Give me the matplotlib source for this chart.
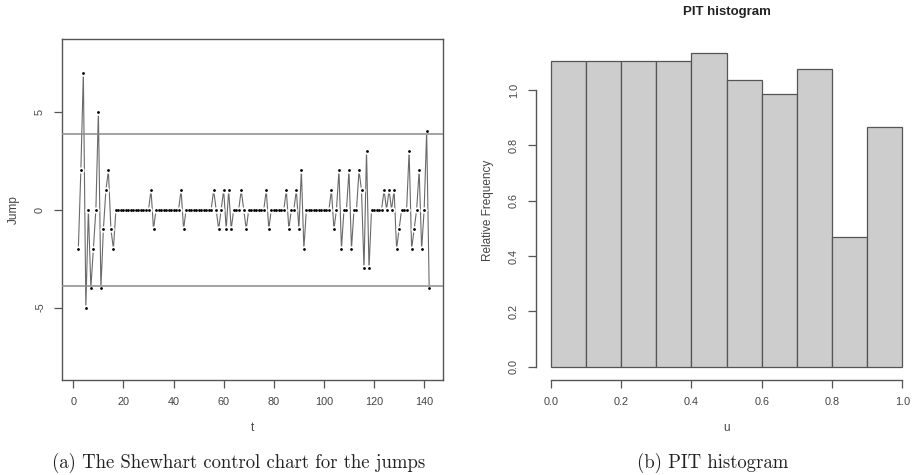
import numpy as np
import matplotlib
matplotlib.use("Agg")
import matplotlib.pyplot as plt

# ---------------- data ----------------
t_start = 2
jumps = [
    -2, 2, 7, -5, 0, -4, -2, 0, 5, -4, -1, 1, 2, -1, -2,
    0, 0, 0, 0, 0, 0, 0, 0, 0, 0, 0, 0, 0, 0,
    1, -1,
    0, 0, 0, 0, 0, 0, 0, 0, 0, 0,
    1, -1,
    0, 0, 0, 0, 0, 0, 0, 0, 0, 0, 0,
    1, 0, -1, 0, 1, -1, 1, -1,
    0, 0, 0,
    1, 0, -1,
    0, 0, 0, 0, 0, 0, 0,
    1, -1,
    0, 0, 0, 0, 0, 0,
    1, -1,
    0, 0,
    1, -1, 2, -2,
    0, 0, 0, 0, 0, 0, 0, 0, 0, 0,
    1, -1, 0, 2, -2, 0, 0, 2, -2, 0, 0, 2, 1, -3, 3, -3,
    0, 0, 0, 0, 0,
    1, 0, 1, 0, 1,
    -2, -1, 0, 0, 0, 3, -2, -1, 0, 2, -2, 0, 4, -4,
]
ucl = 3.88
lcl = -3.88
x_ticks_a = [0, 20, 40, 60, 80, 100, 120, 140]
y_ticks_a = [-5, 0, 5]

pit_edges = [0.0, 0.1, 0.2, 0.3, 0.4, 0.5, 0.6, 0.7, 0.8, 0.9, 1.0]
pit_density = [1.105, 1.105, 1.105, 1.105, 1.135, 1.035, 0.985, 1.075, 0.47, 0.865]
x_ticks_b = [0.0, 0.2, 0.4, 0.6, 0.8, 1.0]
y_ticks_b = [0.0, 0.2, 0.4, 0.6, 0.8, 1.0]

# ---------------- figure ----------------
W, H = 920, 475
fig = plt.figure(figsize=(W / 100, H / 100), dpi=100)
plt.rcParams['font.family'] = ['Liberation Sans', 'DejaVu Sans']
txt = '#444444'
axc = '#555555'
tick_fs = 7.8


def px_axes(l, t, r, b):
    return fig.add_axes([l / W, 1 - b / H, (r - l) / W, (b - t) / H])


# ---- (a) Shewhart chart ----
ax1 = px_axes(61.7, 39.3, 443.3, 380)
t = np.arange(t_start, t_start + len(jumps))
y = np.array(jumps)
ax1.plot(t, y, color='#6a6a6a', lw=0.8, zorder=1)
ax1.plot(t, y, 'o', ms=4.6, color='white', mec='none', zorder=2)
ax1.axhline(ucl, color='#8a8a8a', lw=1.1, zorder=3)
ax1.axhline(lcl, color='#8a8a8a', lw=1.1, zorder=3)
ax1.plot(t, y, 'o', ms=2.0, color='black', mec='none', zorder=4)
ax1.set_xlim(-4.64, 147.64)
ax1.set_ylim(-8.7, 8.7)
ax1.set_xticks(x_ticks_a)
ax1.set_xticklabels([str(v) for v in x_ticks_a])
ax1.set_yticks(y_ticks_a)
ax1.set_yticklabels([str(v) for v in y_ticks_a], rotation=90, va='center')
for s in ax1.spines.values():
    s.set_color(axc)
    s.set_linewidth(1.0)
ax1.tick_params(direction='out', length=6, width=0.9, color=axc,
                labelsize=tick_fs, labelcolor=txt, pad=6)
ax1.set_xlabel('t', fontsize=8.5, color=txt, labelpad=11)
ax1.set_ylabel('Jump', fontsize=8.5, color=txt, labelpad=11)

# ---- (b) PIT histogram ----
ax2 = px_axes(535.7, 40.2, 917.4, 380)
widths = np.diff(pit_edges)
ax2.bar(pit_edges[:-1], pit_density, width=widths, align='edge',
        color='#cdcdcd', edgecolor='#555555', linewidth=0.9)
ax2.set_xlim(-0.0425, 1.0425)
ax2.set_ylim(-0.048, 1.18)
ax2.spines['top'].set_visible(False)
ax2.spines['right'].set_visible(False)
ax2.spines['left'].set_bounds(0.0, 1.0)
ax2.spines['bottom'].set_bounds(0.0, 1.0)
for s in ('left', 'bottom'):
    ax2.spines[s].set_color(axc)
    ax2.spines[s].set_linewidth(1.0)
ax2.set_xticks(x_ticks_b)
ax2.set_xticklabels([f'{v:.1f}' for v in x_ticks_b])
ax2.set_yticks(y_ticks_b)
ax2.set_yticklabels([f'{v:.1f}' for v in y_ticks_b], rotation=90, va='center')
ax2.tick_params(direction='out', length=6, width=0.9, color=axc,
                labelsize=tick_fs, labelcolor=txt, pad=6)
ax2.set_xlabel('u', fontsize=8.5, color=txt, labelpad=11)
ax2.set_ylabel('Relative Frequency', fontsize=8.5, color=txt, labelpad=11)
fig.text(726.7 / W, 1 - 12 / H, 'PIT histogram', ha='center', va='center',
         fontsize=9.5, fontweight='bold', color='#222222')

# ---- captions ----
cap_font = dict(family=['cmr10', 'DejaVu Serif'], fontsize=13.5, color='#222222')
fig.text(239 / W, 1 - 463 / H, '(a) The Shewhart control chart for the jumps',
         ha='center', va='center', **cap_font)
fig.text(713 / W, 1 - 463 / H, '(b) PIT histogram',
         ha='center', va='center', **cap_font)

fig.savefig('out.png', dpi=100)
